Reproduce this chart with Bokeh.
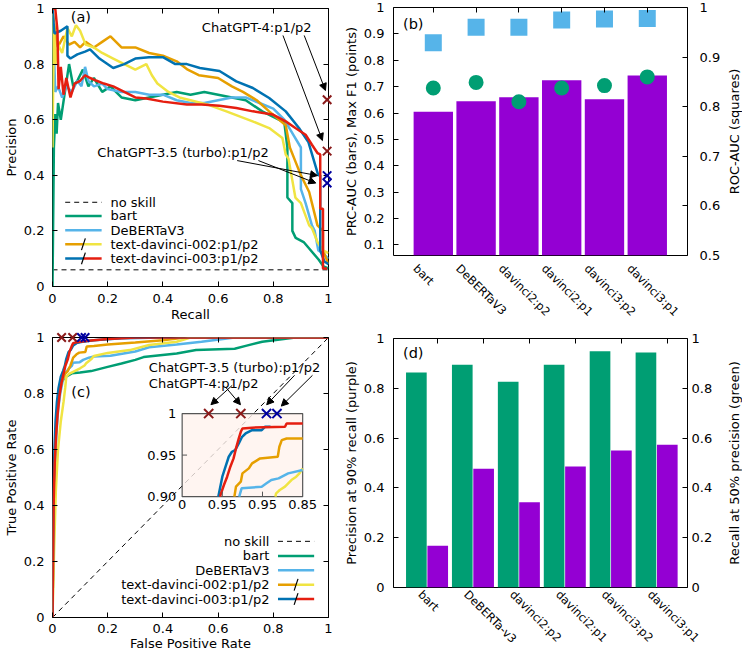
import math
from bokeh.plotting import figure
from bokeh.models import (Range1d, LinearAxis, FixedTicker, PrintfTickFormatter,
                          CustomJSTickFormatter, Label, Arrow, NormalHead, ColumnDataSource)
from bokeh.layouts import row, column
from bokeh.transform import dodge
from bokeh.embed import file_html
from bokeh.resources import INLINE
from bokeh.core.properties import value

# ============================ DATA ============================
# ---- (a) precision-recall curves ----
pr_bart_recall = [0, 0, 0.005, 0.01, 0.015, 0.02, 0.03, 0.045, 0.06, 0.075, 0.09, 0.11, 0.13, 0.15, 0.18, 0.21, 0.25, 0.3, 0.35, 0.4, 0.45, 0.5, 0.55, 0.6, 0.65, 0.7, 0.76, 0.8, 0.84, 0.851, 0.851, 0.869, 0.869, 0.881, 0.91, 0.94, 0.964, 0.982, 1.0]
pr_bart_precision = [1, 0, 0.5, 0.62, 0.55, 0.66, 0.6, 0.7, 0.8, 0.72, 0.74, 0.78, 0.72, 0.75, 0.70, 0.72, 0.68, 0.67, 0.68, 0.69, 0.70, 0.69, 0.70, 0.69, 0.68, 0.67, 0.63, 0.61, 0.59, 0.50, 0.32, 0.30, 0.20, 0.175, 0.16, 0.125, 0.097, 0.072, 0.065]

pr_deberta_recall = [0, 0.005, 0.01, 0.02, 0.035, 0.05, 0.07, 0.09, 0.105, 0.118, 0.13, 0.15, 0.18, 0.2, 0.25, 0.3, 0.35, 0.4, 0.45, 0.5, 0.55, 0.6, 0.65, 0.7, 0.75, 0.8, 0.84, 0.87, 0.9, 0.9, 0.917, 0.94, 0.95, 0.963, 0.98, 1.0]
pr_deberta_precision = [1, 0.85, 0.7, 0.72, 0.68, 0.72, 0.70, 0.74, 0.72, 0.79, 0.74, 0.72, 0.73, 0.71, 0.70, 0.70, 0.69, 0.69, 0.67, 0.66, 0.66, 0.67, 0.68, 0.68, 0.66, 0.64, 0.60, 0.55, 0.50, 0.35, 0.30, 0.22, 0.20, 0.13, 0.12, 0.10]

pr_d002p1_recall = [0, 0.005, 0.018, 0.04, 0.06, 0.08, 0.1, 0.12, 0.15, 0.18, 0.21, 0.25, 0.3, 0.35, 0.4, 0.45, 0.49, 0.53, 0.6, 0.65, 0.69, 0.74, 0.785, 0.845, 0.86, 0.88, 0.9, 0.93, 0.94, 0.96, 0.98, 0.98, 1.0]
pr_d002p1_precision = [1, 0.95, 0.86, 0.90, 0.87, 0.88, 0.86, 0.88, 0.86, 0.88, 0.90, 0.86, 0.86, 0.84, 0.83, 0.81, 0.78, 0.76, 0.75, 0.72, 0.70, 0.67, 0.63, 0.58, 0.50, 0.45, 0.40, 0.34, 0.30, 0.22, 0.20, 0.13, 0.08]

pr_d002p2_recall = [0, 0.0, 0.005, 0.01, 0.02, 0.035, 0.054, 0.07, 0.085, 0.1, 0.12, 0.15, 0.18, 0.22, 0.26, 0.3, 0.34, 0.36, 0.38, 0.42, 0.46, 0.5, 0.56, 0.63, 0.725, 0.785, 0.833, 0.845, 0.855, 0.88, 0.9, 0.93, 0.94, 0.96, 0.98, 1.0]
pr_d002p2_precision = [1, 0.5, 0.95, 0.80, 0.87, 0.84, 0.93, 0.90, 0.94, 0.92, 0.87, 0.86, 0.84, 0.82, 0.80, 0.78, 0.80, 0.76, 0.73, 0.70, 0.68, 0.67, 0.655, 0.63, 0.594, 0.57, 0.534, 0.475, 0.46, 0.32, 0.30, 0.22, 0.21, 0.16, 0.13, 0.12]

pr_d003p1_recall = [0, 0.007, 0.03, 0.054, 0.054, 0.065, 0.09, 0.118, 0.136, 0.17, 0.22, 0.26, 0.3, 0.35, 0.4, 0.445, 0.487, 0.534, 0.605, 0.666, 0.726, 0.785, 0.845, 0.893, 0.927, 0.963, 0.97, 0.97, 0.985, 1.0]
pr_d003p1_precision = [1, 0.91, 0.92, 0.936, 0.83, 0.82, 0.835, 0.845, 0.853, 0.82, 0.786, 0.80, 0.82, 0.825, 0.825, 0.80, 0.80, 0.786, 0.775, 0.738, 0.714, 0.678, 0.63, 0.57, 0.52, 0.40, 0.40, 0.13, 0.09, 0.08]

pr_d003p2_recall = [0, 0.01, 0.018, 0.022, 0.03, 0.04, 0.05, 0.065, 0.08, 0.1, 0.118, 0.136, 0.16, 0.186, 0.22, 0.26, 0.3, 0.34, 0.4, 0.487, 0.54, 0.605, 0.666, 0.726, 0.797, 0.845, 0.88, 0.917, 0.94, 0.96, 0.97, 0.97, 0.98, 0.98, 0.995]
pr_d003p2_precision = [1, 1, 0.92, 0.71, 0.79, 0.69, 0.75, 0.68, 0.73, 0.74, 0.76, 0.75, 0.74, 0.73, 0.72, 0.70, 0.68, 0.676, 0.665, 0.655, 0.655, 0.65, 0.642, 0.63, 0.619, 0.594, 0.57, 0.546, 0.51, 0.48, 0.475, 0.28, 0.28, 0.065, 0.065]

pr_no_skill = 0.06
pr_chatgpt4_recall = [0.995, 0.995]
pr_chatgpt4_precision = [0.672, 0.487]
pr_chatgpt35_recall = [0.995, 0.995]
pr_chatgpt35_precision = [0.399, 0.372]

# ---- (c) ROC curves ----
roc_bart_fpr = [0, 0.003, 0.007, 0.012, 0.018, 0.025, 0.035, 0.046, 0.07, 0.1, 0.14, 0.2, 0.25, 0.3, 0.33, 0.45, 0.52, 0.66, 0.7, 0.76, 0.88, 1.0]
roc_bart_tpr = [0, 0.3, 0.5, 0.65, 0.75, 0.81, 0.845, 0.858, 0.872, 0.875, 0.88, 0.895, 0.907, 0.92, 0.93, 0.943, 0.955, 0.96, 0.97, 0.985, 1.0, 1.0]
roc_deberta_fpr = [0, 0.004, 0.008, 0.014, 0.02, 0.028, 0.036, 0.045, 0.06, 0.071, 0.074, 0.099, 0.111, 0.132, 0.15, 0.21, 0.3, 0.35, 0.45, 0.54, 0.66, 1.0]
roc_deberta_tpr = [0, 0.3, 0.5, 0.65, 0.74, 0.8, 0.84, 0.87, 0.89, 0.9, 0.91, 0.912, 0.92, 0.928, 0.932, 0.935, 0.95, 0.965, 0.975, 0.985, 1.0, 1.0]
roc_d002p1_fpr = [0, 0.003, 0.006, 0.01, 0.016, 0.024, 0.033, 0.045, 0.055, 0.065, 0.075, 0.087, 0.097, 0.119, 0.124, 0.15, 0.2, 0.3, 0.4, 0.48, 1.0]
roc_d002p1_tpr = [0, 0.3, 0.5, 0.62, 0.72, 0.8, 0.84, 0.87, 0.88, 0.9, 0.928, 0.94, 0.946, 0.948, 0.968, 0.97, 0.975, 0.982, 0.99, 1.0, 1.0]
roc_d002p2_fpr = [0, 0.006, 0.012, 0.02, 0.03, 0.04, 0.046, 0.05, 0.06, 0.08, 0.1, 0.116, 0.122, 0.132, 0.142, 0.15, 0.2, 0.28, 0.35, 0.45, 0.5, 1.0]
roc_d002p2_tpr = [0, 0.25, 0.45, 0.6, 0.7, 0.77, 0.82, 0.86, 0.87, 0.88, 0.89, 0.9, 0.908, 0.916, 0.924, 0.934, 0.945, 0.955, 0.973, 0.985, 1.0, 1.0]
roc_d003p1_fpr = [0, 0.002, 0.004, 0.007, 0.011, 0.016, 0.022, 0.03, 0.038, 0.045, 0.05, 0.058, 0.066, 0.075, 0.087, 0.103, 0.15, 0.25, 0.4, 1.0]
roc_d003p1_tpr = [0, 0.25, 0.45, 0.6, 0.7, 0.77, 0.82, 0.86, 0.88, 0.9, 0.924, 0.948, 0.956, 0.972, 0.98, 0.984, 0.99, 0.997, 1.0, 1.0]
roc_d003p2_fpr = [0, 0.002, 0.004, 0.008, 0.013, 0.018, 0.025, 0.033, 0.04, 0.047, 0.056, 0.062, 0.07, 0.075, 0.087, 0.13, 0.2, 0.3, 1.0]
roc_d003p2_tpr = [0, 0.2, 0.4, 0.55, 0.65, 0.72, 0.79, 0.84, 0.87, 0.9, 0.924, 0.95, 0.97, 0.98, 0.983, 0.988, 0.995, 1.0, 1.0]
roc_no_skill_fpr = [0, 1]
roc_no_skill_tpr = [0, 1]
roc_chatgpt4_fpr = [0.033, 0.073]
roc_chatgpt4_tpr = [1.0, 1.0]
roc_chatgpt35_fpr = [0.105, 0.118]
roc_chatgpt35_tpr = [1.0, 1.0]

# ---- (c) inset (zoom of top-left corner) ----
inset_d002p2_fpr = [0.116, 0.117, 0.1215, 0.128, 0.132, 0.136, 0.142, 0.146, 0.15]
inset_d002p2_tpr = [0.90, 0.904, 0.908, 0.912, 0.916, 0.92, 0.924, 0.928, 0.934]
inset_deberta_fpr = [0.071, 0.074, 0.099, 0.105, 0.111, 0.12, 0.132, 0.15]
inset_deberta_tpr = [0.90, 0.91, 0.912, 0.916, 0.92, 0.922, 0.928, 0.932]
inset_d002p1_fpr = [0.065, 0.067, 0.073, 0.075, 0.083, 0.087, 0.097, 0.119, 0.121, 0.124, 0.13, 0.15]
inset_d002p1_tpr = [0.90, 0.912, 0.918, 0.928, 0.934, 0.94, 0.946, 0.948, 0.96, 0.968, 0.97, 0.97]
inset_d003p1_fpr = [0.045, 0.050, 0.054, 0.058, 0.062, 0.066, 0.0705, 0.0746, 0.079, 0.087, 0.099, 0.103, 0.11]
inset_d003p1_tpr = [0.90, 0.924, 0.936, 0.948, 0.954, 0.956, 0.964, 0.972, 0.976, 0.98, 0.98, 0.984, 0.984]
inset_d003p2_fpr = [0.047, 0.052, 0.056, 0.060, 0.064, 0.067, 0.0705, 0.073, 0.075, 0.087, 0.128, 0.130, 0.15]
inset_d003p2_tpr = [0.900, 0.914, 0.924, 0.936, 0.946, 0.958, 0.970, 0.978, 0.982, 0.983, 0.984, 0.988, 0.988]
inset_x_span = [0, 0.15]
inset_y_span = [0.9, 1.0]
inset_x_ticks = [0, 0.05, 0.1, 0.15]
inset_x_labels = ["0", "0.95", "0.95", "0.85"]
inset_y_ticks = [1.0, 0.95, 0.9]
inset_y_labels = ["1", "0.95", "0.90"]

# ---- (b) summary metrics ----
b_categories = ["bart", "DeBERTaV3", "davinci2:p2", "davinci2:p1", "davinci3:p2", "davinci3:p1"]
b_prc_auc = [0.605, 0.645, 0.660, 0.724, 0.652, 0.742]
b_max_f1 = [0.695, 0.716, 0.643, 0.695, 0.704, 0.737]
b_roc_auc = [0.929, 0.960, 0.960, 0.975, 0.977, 0.978]

# ---- (d) operating points ----
d_categories = ["bart", "DeBERTa-v3", "davinci2:p2", "davinci2:p1", "davinci3:p2", "davinci3:p1"]
d_recall_at_50_precision = [0.863, 0.895, 0.826, 0.895, 0.949, 0.944]
d_precision_at_90_recall = [0.168, 0.477, 0.342, 0.486, 0.550, 0.573]

# ---- ticks ----
unit_ticks = [0, 0.2, 0.4, 0.6, 0.8, 1.0]
b_left_ticks = [0.1, 0.2, 0.3, 0.4, 0.5, 0.6, 0.7, 0.8, 0.9, 1.0]
b_right_ticks = [0.5, 0.6, 0.7, 0.8, 0.9, 1.0]

# ============================ STYLE ============================
FONT = "DejaVu Sans"
FS = "13px"
CAT_FS = "11.5px"
PURPLE = "#9400d3"
GREEN = "#009e73"
SKY = "#56b4e9"
ORANGE = "#e69f00"
YELLOW = "#f0e442"
BLUE = "#0072b2"
RED = "#e51e10"
DKRED = "#8b1a1a"
DKBLUE = "#0000a0"
LW = 2.5
DASH = "5 4"


def base_fig(w, h, left, right, top, bottom, x_range, y_range):
    p = figure(width=w, height=h, x_range=x_range, y_range=y_range,
               x_axis_location=None, y_axis_location=None,
               toolbar_location=None, output_backend="svg",
               min_border_left=left, min_border_right=right,
               min_border_top=top, min_border_bottom=bottom)
    p.xgrid.visible = False
    p.ygrid.visible = False
    p.outline_line_color = "black"
    p.outline_line_width = 1
    p.outline_line_alpha = 1
    p.background_fill_color = "white"
    p.border_fill_color = "white"
    return p


def add_axis(p, side, ticks, show_labels=True, range_name="default",
             standoff=9, title=None, title_standoff=2, tick_in=5, formatter=None,
             orientation=None, label_size=FS):
    if side in ("above", "below"):
        ax = LinearAxis(x_range_name=range_name)
    else:
        ax = LinearAxis(y_range_name=range_name)
    ax.ticker = FixedTicker(ticks=ticks, minor_ticks=[])
    ax.formatter = formatter if formatter is not None else PrintfTickFormatter(format="%g")
    ax.axis_line_color = None
    ax.major_tick_in = tick_in
    ax.major_tick_out = 0
    ax.major_tick_line_color = "black" if tick_in > 0 else None
    ax.major_tick_line_width = 1
    ax.minor_tick_line_color = None
    ax.major_label_text_font = FONT
    if show_labels:
        ax.major_label_text_color = "black"
        ax.major_label_text_font_size = label_size
        ax.major_label_standoff = standoff
    else:
        # mirrored tick marks only: labels are not drawn
        ax.major_label_text_color = None
        ax.major_label_text_font_size = "1px"
        ax.major_label_standoff = 0
    if orientation is not None:
        ax.major_label_orientation = orientation
    if title:
        ax.axis_label = title
        ax.axis_label_text_font = FONT
        ax.axis_label_text_font_size = FS
        ax.axis_label_text_font_style = "normal"
        ax.axis_label_text_color = "black"
        ax.axis_label_standoff = title_standoff
    p.add_layout(ax, side)
    return ax


def side_title(text, h, top, bottom):
    # narrow strip carrying a y2 title that reads bottom-to-top, centred on the frame
    t = figure(width=18, height=h, x_range=Range1d(0, 1), y_range=Range1d(0, 1),
               x_axis_location=None, y_axis_location=None,
               toolbar_location=None, output_backend="svg",
               min_border_left=16, min_border_right=1,
               min_border_top=top, min_border_bottom=bottom)
    t.xgrid.visible = False
    t.ygrid.visible = False
    t.outline_line_color = None
    t.background_fill_color = "white"
    t.border_fill_color = "white"
    ax = LinearAxis(ticker=FixedTicker(ticks=[], minor_ticks=[]))
    ax.axis_line_color = None
    ax.major_tick_in = 0
    ax.major_tick_out = 0
    ax.major_tick_line_color = None
    ax.minor_tick_line_color = None
    ax.major_label_text_color = None
    ax.major_label_text_font_size = "1px"
    ax.major_label_standoff = 0
    ax.axis_label = text
    ax.axis_label_text_font = FONT
    ax.axis_label_text_font_size = FS
    ax.axis_label_text_font_style = "normal"
    ax.axis_label_text_color = "black"
    ax.axis_label_standoff = 0
    t.add_layout(ax, "left")
    return t


def add_text(p, x, y, text, align="left", size=FS, angle=0.0, baseline="middle"):
    p.add_layout(Label(x=x, y=y, text=text, text_font=FONT, text_font_size=size,
                       text_align=align, text_baseline=baseline, angle=angle,
                       text_color="black"))


def add_arrow(p, xs, ys, xe, ye):
    p.add_layout(Arrow(end=NormalHead(size=7, line_color="black", fill_color="black", line_width=1),
                       x_start=xs, y_start=ys, x_end=xe, y_end=ye,
                       line_color="black", line_width=1))


def manual_legend(p, entries, rows, x0, x1, xt, align, slash_dx, slash_dy):
    xm = (x0 + x1) / 2.0
    for (label, c1, c2, dashed), yy in zip(entries, rows):
        if dashed:
            p.line([x0, x1], [yy, yy], line_color="black", line_width=1, line_dash=DASH)
        elif c2 is None:
            p.line([x0, x1], [yy, yy], line_color=c1, line_width=LW)
        else:
            p.line([x0, xm], [yy, yy], line_color=c1, line_width=LW)
            p.line([xm, x1], [yy, yy], line_color=c2, line_width=LW)
            p.line([xm - slash_dx, xm + slash_dx], [yy - slash_dy, yy + slash_dy],
                   line_color="black", line_width=1.2)
        add_text(p, xt, yy, label, align=align)


def cat_formatter(names):
    return CustomJSTickFormatter(
        args=dict(names=names),
        code="const i = Math.round(tick); return (i >= 0 && i < names.length) ? names[i] : '';")


legend_entries = [("no skill", "black", None, True),
                  ("bart", GREEN, None, False),
                  ("DeBERTaV3", SKY, None, False),
                  ("text-davinci-002:p1/p2", ORANGE, YELLOW, False),
                  ("text-davinci-003:p1/p2", BLUE, RED, False)]

# ============================ (a) ============================
pa = base_fig(340, 325, 47, 12, 8, 39, Range1d(0, 1), Range1d(0, 1))
add_axis(pa, "below", unit_ticks, standoff=7, title="Recall", title_standoff=1)
add_axis(pa, "left", unit_ticks, standoff=8, title="Precision", title_standoff=2)
add_axis(pa, "above", unit_ticks, show_labels=False)
add_axis(pa, "right", unit_ticks, show_labels=False)

pa.line([0, 1], [pr_no_skill, pr_no_skill], line_color="black", line_width=1, line_dash=DASH)
for xs, ys, col in [(pr_bart_recall, pr_bart_precision, GREEN),
                    (pr_deberta_recall, pr_deberta_precision, SKY),
                    (pr_d002p1_recall, pr_d002p1_precision, ORANGE),
                    (pr_d002p2_recall, pr_d002p2_precision, YELLOW),
                    (pr_d003p1_recall, pr_d003p1_precision, BLUE),
                    (pr_d003p2_recall, pr_d003p2_precision, RED)]:
    pa.line(xs, ys, line_color=col, line_width=LW)
pa.scatter(pr_chatgpt4_recall, pr_chatgpt4_precision, marker="x", size=12,
           line_color=DKRED, line_width=2, level="overlay")
pa.scatter(pr_chatgpt35_recall, pr_chatgpt35_precision, marker="x", size=12,
           line_color=DKBLUE, line_width=2, level="overlay")
add_text(pa, 0.74, 0.933, "ChatGPT-4:p1/p2", align="center")
add_text(pa, 0.473, 0.483, "ChatGPT-3.5 (turbo):p1/p2", align="center")
add_arrow(pa, 0.835, 0.903, 0.978, 0.525)
add_arrow(pa, 0.912, 0.903, 0.989, 0.705)
add_arrow(pa, 0.669, 0.453, 0.960, 0.399)
add_arrow(pa, 0.746, 0.453, 0.954, 0.372)
add_text(pa, 0.103, 0.971, "(a)", align="center", size="14.5px")
manual_legend(pa, legend_entries, [0.303, 0.254, 0.202, 0.152, 0.101],
              0.046, 0.178, 0.21, "left", 0.007, 0.021)

# ============================ (c) ============================
pc = base_fig(340, 329, 47, 12, 12, 37, Range1d(0, 1), Range1d(0, 1))
C_FRAME_W, C_FRAME_H = 281.0, 281.0
INS_L, INS_R, INS_T, INS_B = 132.0, 254.7, 76.3, 159.7   # inset box inside the frame, px
ipx = (inset_x_span[1] - inset_x_span[0]) / (INS_R - INS_L)
ipy = (inset_y_span[1] - inset_y_span[0]) / (INS_B - INS_T)
pc.extra_x_ranges = {"ix": Range1d(inset_x_span[0] - INS_L * ipx,
                                   inset_x_span[1] + (C_FRAME_W - INS_R) * ipx)}
pc.extra_y_ranges = {"iy": Range1d(inset_y_span[0] - (C_FRAME_H - INS_B) * ipy,
                                   inset_y_span[1] + INS_T * ipy)}
add_axis(pc, "below", unit_ticks, standoff=6, title="False Positive Rate", title_standoff=0)
add_axis(pc, "left", unit_ticks, standoff=8, title="True Positive Rate", title_standoff=2)
add_axis(pc, "above", unit_ticks, show_labels=False)
add_axis(pc, "right", unit_ticks, show_labels=False)

pc.line(roc_no_skill_fpr, roc_no_skill_tpr, line_color="black", line_width=1, line_dash=DASH)
for xs, ys, col in [(roc_bart_fpr, roc_bart_tpr, GREEN),
                    (roc_deberta_fpr, roc_deberta_tpr, SKY),
                    (roc_d002p1_fpr, roc_d002p1_tpr, ORANGE),
                    (roc_d002p2_fpr, roc_d002p2_tpr, YELLOW),
                    (roc_d003p1_fpr, roc_d003p1_tpr, BLUE),
                    (roc_d003p2_fpr, roc_d003p2_tpr, RED)]:
    pc.line(xs, ys, line_color=col, line_width=LW)
pc.scatter(roc_chatgpt4_fpr, roc_chatgpt4_tpr, marker="x", size=12,
           line_color=DKRED, line_width=2, level="overlay")
pc.scatter(roc_chatgpt35_fpr, roc_chatgpt35_tpr, marker="x", size=12,
           line_color=DKBLUE, line_width=2, level="overlay")

pc.quad(left=inset_x_span[0], right=inset_x_span[1], bottom=inset_y_span[0], top=inset_y_span[1],
        x_range_name="ix", y_range_name="iy", fill_color="#fff2ee", fill_alpha=0.8,
        line_color="#555555", line_width=1.2)
for xs, ys, col in [(inset_d002p2_fpr, inset_d002p2_tpr, YELLOW),
                    (inset_deberta_fpr, inset_deberta_tpr, SKY),
                    (inset_d002p1_fpr, inset_d002p1_tpr, ORANGE),
                    (inset_d003p1_fpr, inset_d003p1_tpr, BLUE),
                    (inset_d003p2_fpr, inset_d003p2_tpr, RED)]:
    pc.line(xs, ys, line_color=col, line_width=LW, x_range_name="ix", y_range_name="iy")
tick_dx, tick_dy = 5 * ipx, 5 * ipy
mid_y = inset_y_ticks[1:-1]
pc.segment(x0=[inset_x_span[0]] * len(mid_y), x1=[inset_x_span[0] + tick_dx] * len(mid_y),
           y0=mid_y, y1=mid_y, line_color="#555555", line_width=1,
           x_range_name="ix", y_range_name="iy")
mid_x = inset_x_ticks[1:-1]
pc.segment(x0=mid_x, x1=mid_x, y0=[inset_y_span[0]] * len(mid_x),
           y1=[inset_y_span[0] + tick_dy] * len(mid_x), line_color="#555555", line_width=1,
           x_range_name="ix", y_range_name="iy")
pc.text(x=[inset_x_span[0] - 6 * ipx] * len(inset_y_ticks), y=inset_y_ticks, text=inset_y_labels,
        text_font=value(FONT), text_font_size=value(FS), text_align="right",
        text_baseline="middle", text_color="black", x_range_name="ix", y_range_name="iy")
pc.text(x=inset_x_ticks, y=[inset_y_span[0] - 8 * ipy] * len(inset_x_ticks), text=inset_x_labels,
        text_font=value(FONT), text_font_size=value(FS), text_align="center",
        text_baseline="middle", text_color="black", x_range_name="ix", y_range_name="iy")
pc.scatter(roc_chatgpt4_fpr, roc_chatgpt4_tpr, marker="x", size=13, line_color=DKRED,
           line_width=2, x_range_name="ix", y_range_name="iy", level="overlay")
pc.scatter(roc_chatgpt35_fpr, roc_chatgpt35_tpr, marker="x", size=13, line_color=DKBLUE,
           line_width=2, x_range_name="ix", y_range_name="iy", level="overlay")

add_text(pc, 0.349, 0.894, "ChatGPT-3.5 (turbo):p1/p2")
add_text(pc, 0.349, 0.835, "ChatGPT-4:p1/p2")
add_arrow(pc, 0.651, 0.829, 0.574, 0.760)
add_arrow(pc, 0.627, 0.823, 0.681, 0.760)
add_arrow(pc, 0.877, 0.865, 0.776, 0.760)
add_arrow(pc, 0.942, 0.865, 0.829, 0.755)
add_text(pc, 0.103, 0.804, "(c)", align="center", size="14.5px")
manual_legend(pc, legend_entries, [0.272, 0.220, 0.169, 0.117, 0.066],
              0.817, 0.948, 0.786, "right", 0.007, 0.021)

# ============================ (b) ============================
B_X0, B_X1 = -0.93, 5.94
B_LABEL_SHIFT = 0.42
pb = base_fig(384, 330, 49, 37, 7, 75, Range1d(B_X0, B_X1), Range1d(0.06, 1.0))
pb.extra_y_ranges = {"roc": Range1d(0.5, 1.0)}
pb.extra_x_ranges = {"lab": Range1d(B_X0 + B_LABEL_SHIFT, B_X1 + B_LABEL_SHIFT)}
xb = list(range(len(b_categories)))
pb.vbar(x=xb, top=b_prc_auc, bottom=0, width=0.92, fill_color=PURPLE, line_color=None)
pb.scatter(xb, b_max_f1, marker="circle", size=15, fill_color=GREEN, line_color=None)
pb.scatter(xb, b_roc_auc, marker="square", size=17, fill_color=SKY, line_color=None,
           y_range_name="roc")
add_axis(pb, "left", b_left_ticks, standoff=9, title="PRC-AUC (bars), Max F1 (points)")
add_axis(pb, "right", b_right_ticks, range_name="roc", standoff=12)
add_axis(pb, "above", xb, show_labels=False)
add_axis(pb, "below", xb, range_name="lab", standoff=11, tick_in=0,
         formatter=cat_formatter(b_categories), orientation=-math.pi / 4, label_size=CAT_FS)
add_text(pb, -0.469, 0.936, "(b)", align="center", size="14.5px")
tb = side_title("ROC-AUC (squares)", 330, 7, 75)

# ============================ (d) ============================
D_X0, D_X1 = -0.963, 5.44
D_LABEL_SHIFT = 0.38
p_d = base_fig(384, 324, 49, 37, 8, 67, Range1d(D_X0, D_X1), Range1d(0, 1))
p_d.extra_y_ranges = {"rec": Range1d(0, 1)}
p_d.extra_x_ranges = {"lab": Range1d(D_X0 + D_LABEL_SHIFT, D_X1 + D_LABEL_SHIFT)}
xd = list(range(len(d_categories)))
src_d = ColumnDataSource(dict(x=xd, rec=d_recall_at_50_precision, prec=d_precision_at_90_recall))
p_d.vbar(x=dodge("x", -0.465), top="rec", bottom=0, width=0.45, source=src_d,
         y_range_name="rec", fill_color=GREEN, line_color=None)
p_d.vbar(x="x", top="prec", bottom=0, width=0.45, source=src_d,
         fill_color=PURPLE, line_color=None)
add_axis(p_d, "left", unit_ticks, standoff=9, title="Precision at 90% recall (purple)")
add_axis(p_d, "right", unit_ticks, range_name="rec", standoff=4)
add_axis(p_d, "above", xd, show_labels=False)
add_axis(p_d, "below", xd, range_name="lab", standoff=5, tick_in=0,
         formatter=cat_formatter(d_categories), orientation=-math.pi / 4, label_size=CAT_FS)
add_text(p_d, -0.533, 0.94, "(d)", align="center", size="14.5px")
td = side_title("Recall at 50% precision (green)", 324, 8, 67)

layout = row(column(pa, pc), column(pb, p_d), column(tb, td))
open("out.html", "w").write(file_html(layout, INLINE))
